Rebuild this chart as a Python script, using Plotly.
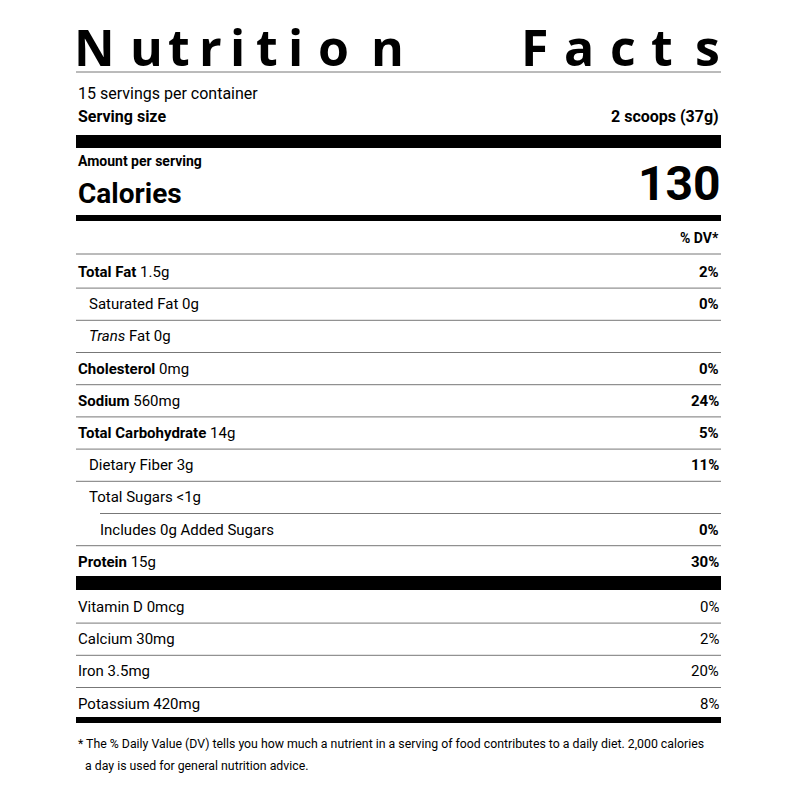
import plotly.graph_objects as go

title_letters = list("NutritionFacts")
title_centers = [95, 147, 180, 211, 238, 268, 296, 334, 388, 535, 580, 624, 663, 708]

servings_text = "15 servings per container"
serving_size = "2 scoops (37g)"
calories = "130"

nutrients = [
    ("<b>Total Fat</b> 1.5g", "<b>2%</b>", 0),
    ("Saturated Fat 0g", "<b>0%</b>", 1),
    ("<i>Trans</i> Fat 0g", "", 1),
    ("<b>Cholesterol</b> 0mg", "<b>0%</b>", 0),
    ("<b>Sodium</b> 560mg", "<b>24%</b>", 0),
    ("<b>Total Carbohydrate</b> 14g", "<b>5%</b>", 0),
    ("Dietary Fiber 3g", "<b>11%</b>", 1),
    ("Total Sugars <1g", "", 1),
    ("Includes 0g Added Sugars", "<b>0%</b>", 2),
    ("<b>Protein</b> 15g", "<b>30%</b>", 0),
]
vitamins = [("Vitamin D 0mcg", "0%"), ("Calcium 30mg", "2%"), ("Iron 3.5mg", "20%"), ("Potassium 420mg", "8%")]
footnote = ["* The % Daily Value (DV) tells you how much a nutrient in a serving of food contributes to a daily diet. 2,000 calories",
            "a day is used for general nutrition advice."]

FONT = "Roboto, sans-serif"
L, R = 77, 722
fig = go.Figure()
ann, shp = [], []

def text(x, y, s, size, anchor="left", color="black", family=FONT):
    ann.append(dict(x=x, y=y, text=s, showarrow=False, xanchor=anchor, yanchor="middle",
                    font=dict(size=size, color=color, family=family)))

def hline(y, x0=L, w=1, color="#777"):
    shp.append(dict(type="line", x0=x0, x1=R, y0=y, y1=y, line=dict(color=color, width=w)))

def bar(y0, y1):
    shp.append(dict(type="rect", x0=L, x1=R, y0=y0, y1=y1, fillcolor="black", line=dict(width=0)))

for ch, cx in zip(title_letters, title_centers):
    text(cx, 47, "<b>%s</b>" % ch, 50, "center", family="Open Sans, sans-serif")
hline(72)
text(L, 93, servings_text, 16)
text(L, 116, "<b>Serving size</b>", 16)
text(R, 116, "<b>%s</b>" % serving_size, 16, "right")
bar(135, 148)
text(L, 161, "<b>Amount per serving</b>", 14)
text(L, 193, "<b>Calories</b>", 28)
text(R + 2, 183, "<b>%s</b>" % calories, 48, "right")
bar(215, 221)
text(R, 238, "<b>% DV*</b>", 14, "right")
hline(254)

y0, step = 272, 32.2
for i, (lab, dv, ind) in enumerate(nutrients):
    y = y0 + i * step
    text(L + ind * 11, y, lab, 15)
    if dv:
        text(R, y, dv, 15, "right")
    if i < len(nutrients) - 1:
        hline(y + step / 2, x0=L + 24 if i == 7 else L)
bar(576, 590)
y0v = 607
for i, (lab, dv) in enumerate(vitamins):
    y = y0v + i * step
    text(L, y, lab, 15)
    text(R, y, dv, 15, "right")
    if i < len(vitamins) - 1:
        hline(y + step / 2)
bar(717, 723)
text(L, 744, footnote[0], 12.3)
text(L + 7, 766, footnote[1], 12.3)

fig.update_layout(width=800, height=800, margin=dict(l=0, r=0, t=0, b=0),
                  paper_bgcolor="white", plot_bgcolor="white",
                  xaxis=dict(range=[9, 809], visible=False, fixedrange=True),
                  yaxis=dict(range=[808, 8], visible=False, fixedrange=True),
                  annotations=ann, shapes=shp, showlegend=False)
fig.write_html("out.html")
